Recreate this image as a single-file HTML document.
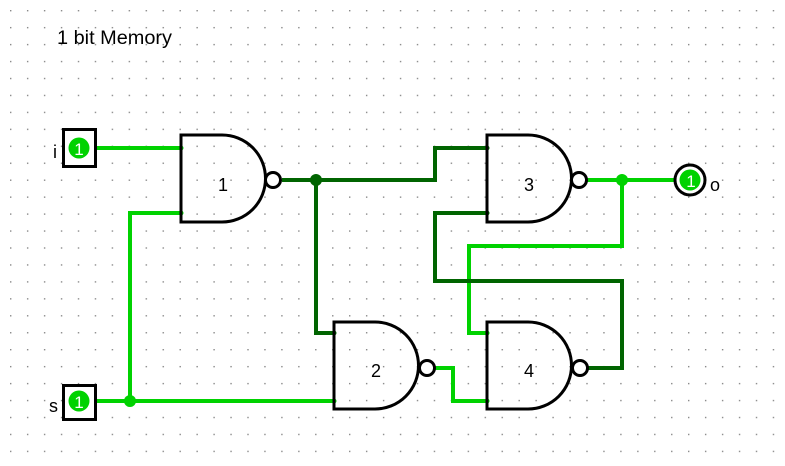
<!DOCTYPE html>
<html><head><style>html,body{margin:0;padding:0;background:#fff}svg{display:block}</style></head>
<body>
<svg width="785" height="466" viewBox="0 0 785 466" xmlns="http://www.w3.org/2000/svg" font-family="Liberation Sans, sans-serif">
<defs>
<pattern id="g" x="10" y="10" width="16.95" height="16.95" patternUnits="userSpaceOnUse">
<rect x="0" y="0" width="1.4" height="1.4" fill="#888"/>
</pattern>
</defs>
<rect width="785" height="466" fill="url(#g)"/>
<text x="57" y="44" font-size="19" textLength="115" lengthAdjust="spacingAndGlyphs">1 bit Memory</text>

<g fill="none" stroke-width="4" stroke-linejoin="miter">
<g stroke="#00d200">
<path d="M96 148H181"/>
<path d="M181 213H130V401"/>
<path d="M96 401H334"/>
<path d="M435 368H453V401H487"/>
<path d="M587 180H680"/>
<path d="M622 180V246H469V333H487"/>
</g>
<g stroke="#006400">
<path d="M282 180H435V148H487"/>
<path d="M316 180V333H334"/>
<path d="M588 368H622V281H435V213H487"/>
</g>
</g>
<circle cx="130" cy="401" r="6" fill="#00d200"/>
<circle cx="622" cy="180" r="6" fill="#00d200"/>
<circle cx="316" cy="180" r="6" fill="#006400"/>
<g fill="#00d200">
<circle cx="181" cy="148" r="2.5"/><circle cx="181" cy="213" r="2.5"/>
<circle cx="487" cy="333" r="2.5"/><circle cx="487" cy="401" r="2.5"/>
<circle cx="334" cy="401" r="2.5"/>
</g>
<g fill="#006400">
<circle cx="487" cy="148" r="2.5"/><circle cx="487" cy="213" r="2.5"/><circle cx="334" cy="333" r="2.5"/>
</g>

<g fill="none" stroke="#000" stroke-width="3">
<path d="M181 135H222A43.5 43.5 0 0 1 222 222H181Z"/>
<circle cx="273" cy="180" r="7.5"/>
<path d="M487 135H528A43.5 43.5 0 0 1 528 222H487Z"/>
<circle cx="579" cy="180" r="7.5"/>
<path d="M334 322H375A43.5 43.5 0 0 1 375 409H334Z"/>
<circle cx="427" cy="368" r="7.5"/>
<path d="M487 322H528A43.5 43.5 0 0 1 528 409H487Z"/>
<circle cx="580" cy="368" r="7.5"/>
</g>
<g font-size="18" text-anchor="middle">
<text x="223" y="191">1</text>
<text x="529" y="191">3</text>
<text x="376" y="377">2</text>
<text x="529" y="377">4</text>
</g>

<rect x="63.5" y="129.5" width="32" height="37" fill="#fff" stroke="#000" stroke-width="3"/>
<circle cx="79" cy="148" r="10.5" fill="#00d200"/>
<text x="79" y="155" font-size="17" fill="#fff" text-anchor="middle">1</text>
<text x="53" y="158" font-size="18">i</text>

<rect x="63.5" y="385.5" width="32" height="34" fill="#fff" stroke="#000" stroke-width="3"/>
<circle cx="79" cy="401" r="10.5" fill="#00d200"/>
<text x="79" y="408" font-size="17" fill="#fff" text-anchor="middle">1</text>
<text x="49" y="412" font-size="18">s</text>

<circle cx="690" cy="180" r="15" fill="#fff" stroke="#000" stroke-width="3"/>
<circle cx="690" cy="180" r="10.5" fill="#00d200"/>
<text x="691" y="187" font-size="17" fill="#fff" text-anchor="middle">1</text>
<text x="710" y="191" font-size="18">o</text>
</svg>
</body></html>
